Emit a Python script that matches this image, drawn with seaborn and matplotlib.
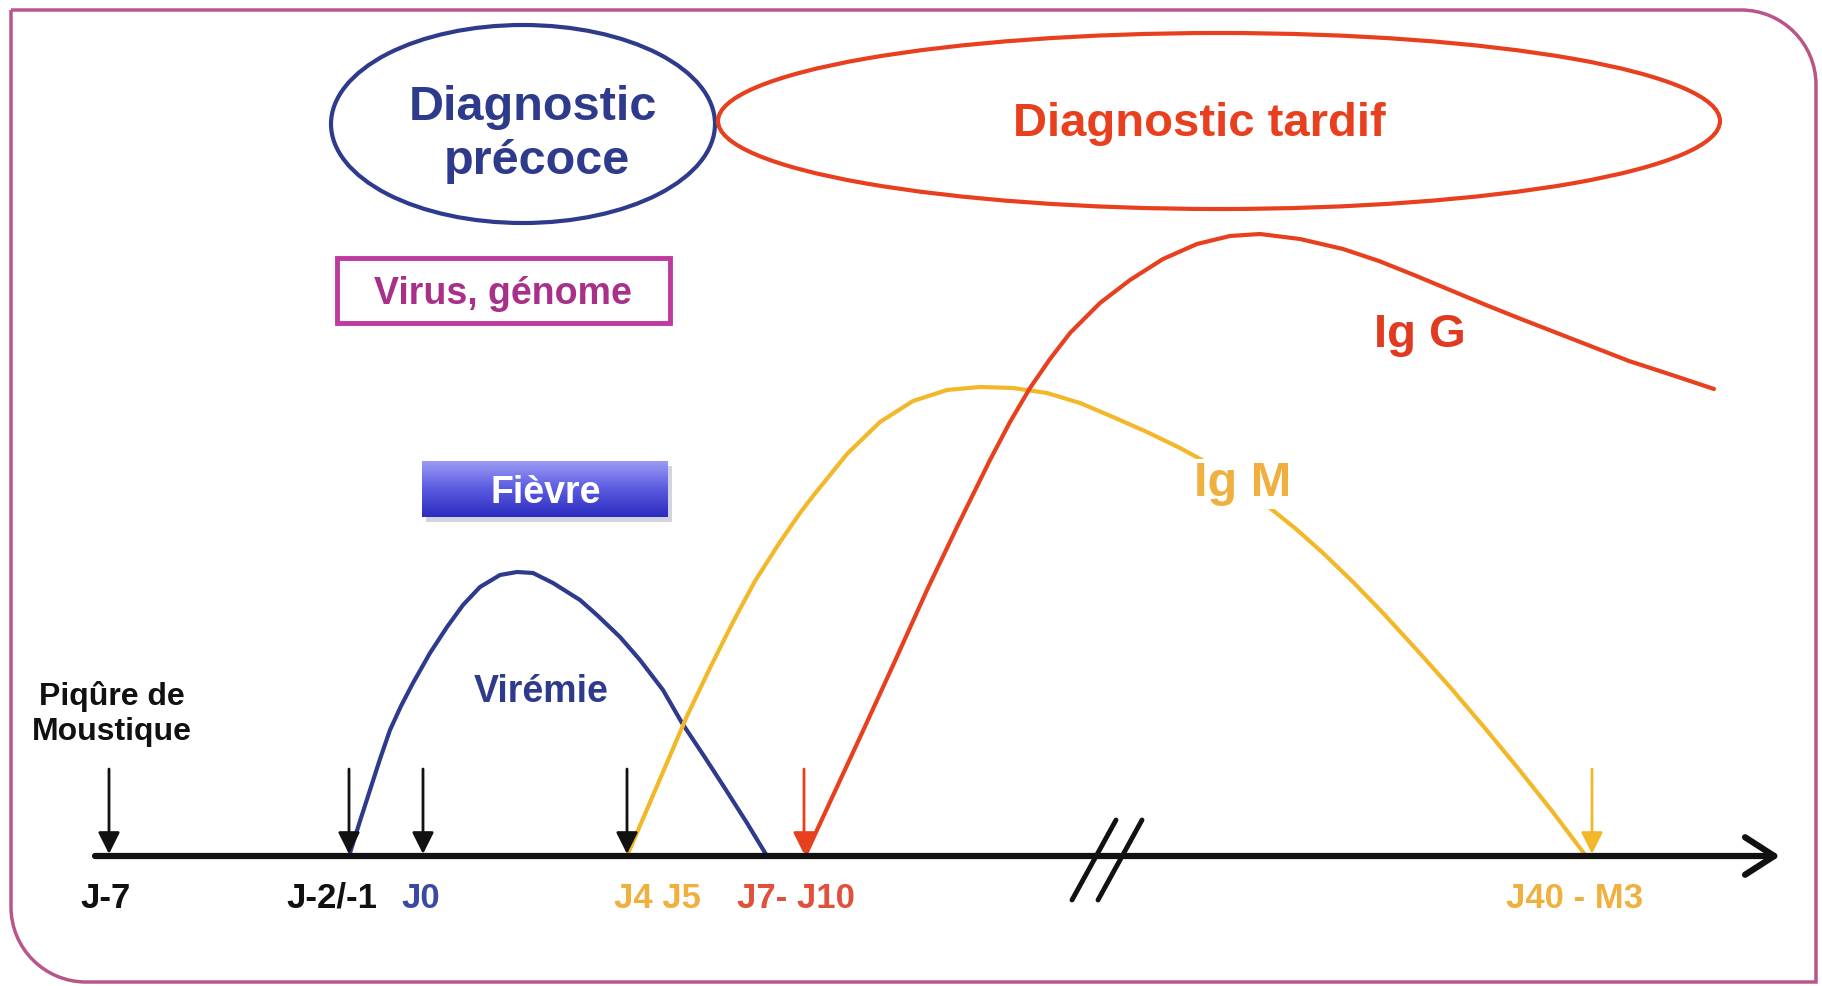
import numpy as np
import pandas as pd
import matplotlib
matplotlib.use("Agg")
import matplotlib.pyplot as plt
import seaborn as sns
from matplotlib.patches import Ellipse, Rectangle, PathPatch
from matplotlib.path import Path
from matplotlib.colors import LinearSegmentedColormap

# ------------------------------------------------------------------
# Data (x along the time line, level = height
# of the curve above the time axis)
# ------------------------------------------------------------------
viremia_x = [349, 360, 370, 380, 390, 401, 413, 430, 447, 463, 480, 500, 517,
             533, 553, 580, 597, 620, 640, 663, 682, 704, 726, 747, 767]
viremia_lv = [0, 35, 66, 97, 126, 150, 173, 203, 229, 251, 269, 281, 284,
              283, 273, 256, 241, 219, 196, 166, 133, 100, 66, 33, 0]

igm_x = [627, 657, 687, 710, 732, 755, 780, 800, 813, 847, 880, 913, 947,
         980, 1013, 1047, 1080, 1113, 1147, 1180, 1213, 1270, 1296, 1323,
         1353, 1383, 1416, 1450, 1484, 1517, 1552, 1586]
igm_lv = [0, 70, 140, 188, 232, 275, 314, 343, 360, 402, 434, 455, 466,
          469, 468, 463, 453, 439, 424, 408, 390, 348, 327, 303,
          274, 243, 207, 169, 129, 89, 45, 0]

igg_x = [805, 830, 862, 895, 927, 957, 990, 1010, 1030, 1050, 1070, 1100,
         1130, 1163, 1197, 1230, 1260, 1300, 1343, 1379, 1414, 1450, 1486,
         1521, 1557, 1593, 1629, 1672, 1714]
igg_lv = [0, 54, 123, 195, 266, 329, 396, 434, 468, 497, 523, 553,
          576, 597, 612, 620, 622, 617, 607, 595, 581, 566, 551,
          537, 523, 509, 495, 481, 467]

tick_x = [109, 349, 423, 627, 804, 1592]
tick_labels = ["J-7", "J-2/-1", "J0", "J4 J5", "J7- J10", "J40 - M3"]
label_x = [106, 332, 421, 657, 796, 1575]

# ------------------------------------------------------------------
# Styles
# ------------------------------------------------------------------
BLUE = "#2e3a8c"
RED = "#e8401e"
YELLOW = "#f2b82a"
ORANGE = "#f0b040"
MAGENTA = "#c0399e"
FRAME = "#b8568a"
tick_colors = ["#111111", "#111111", "#111111", "#111111", RED, YELLOW]
label_colors = ["#111111", "#111111", "#3a4aa0", ORANGE, "#e0503a", ORANGE]

AXIS_Y = 856   # pixel row of the time axis
W, H = 1822, 986

sns.set_theme(style="white")
plt.rcParams["font.family"] = ["Liberation Sans", "DejaVu Sans"]
plt.rcParams["font.weight"] = "bold"

fig = plt.figure(figsize=(W / 100, H / 100), dpi=100)
ax = fig.add_axes([0, 0, 1, 1])


def rows(levels):
    return [AXIS_Y - v for v in levels]


# --- frame with two rounded corners ---
r = 75
k = 0.5523 * r
L, T, R, B = 11, 10, 1816, 982
verts = [(L, T), (R - r, T), (R - r + k, T), (R, T + r - k), (R, T + r),
         (R, B), (L + r, B), (L + r - k, B), (L, B - r + k), (L, B - r), (L, T)]
codes = [Path.MOVETO, Path.LINETO, Path.CURVE4, Path.CURVE4, Path.CURVE4,
         Path.LINETO, Path.LINETO, Path.CURVE4, Path.CURVE4, Path.CURVE4, Path.LINETO]
ax.add_patch(PathPatch(Path(verts, codes), fill=False, ec=FRAME, lw=2.5, zorder=1))

# --- curves ---
curves = pd.concat([
    pd.DataFrame({"x": viremia_x, "y": rows(viremia_lv), "serie": "Virémie"}),
    pd.DataFrame({"x": igm_x, "y": rows(igm_lv), "serie": "IgM"}),
    pd.DataFrame({"x": igg_x, "y": rows(igg_lv), "serie": "IgG"}),
])
sns.lineplot(data=curves, x="x", y="y", hue="serie", sort=False, estimator=None,
             palette={"Virémie": BLUE, "IgM": YELLOW, "IgG": RED},
             lw=3, legend=False, ax=ax, zorder=3,
             solid_joinstyle="round", solid_capstyle="round")

# --- time axis ---
ax.annotate("", xy=(1780, AXIS_Y), xytext=(95, AXIS_Y),
            arrowprops=dict(arrowstyle="->,head_length=0.7,head_width=0.45",
                            lw=4.5, color="#111111", shrinkA=0, shrinkB=0,
                            mutation_scale=30), zorder=4)
for x0, dx in [(1072, 44), (1098, 44)]:
    ax.plot([x0, x0 + dx], [900, 820], color="#111111", lw=3.5, zorder=5)

for x, c in zip(tick_x, tick_colors):
    ax.annotate("", xy=(x, AXIS_Y - 2), xytext=(x, 769),
                arrowprops=dict(arrowstyle="-|>,head_length=0.6,head_width=0.3",
                                lw=2, color=c, shrinkA=0, shrinkB=0,
                                mutation_scale=22), zorder=5)
for x, t, c in zip(label_x, tick_labels, label_colors):
    ax.text(x, 898, t, color=c, fontsize=25, ha="center", va="center")

# --- diagnostic ellipses ---
ax.add_patch(Ellipse((523, 124), 384, 198, fill=False, ec=BLUE, lw=3, zorder=2))
ax.add_patch(Ellipse((1219, 121), 1002, 176, fill=False, ec=RED, lw=3, zorder=2))
ax.text(533, 107, "Diagnostic", color=BLUE, fontsize=35, ha="center", va="center")
ax.text(537, 161, "précoce", color=BLUE, fontsize=35, ha="center", va="center")
ax.text(1199, 124, "Diagnostic tardif", color=RED, fontsize=34,
        ha="center", va="center")

# --- boxes ---
ax.add_patch(Rectangle((337, 258), 333, 65, fill=False, ec=MAGENTA, lw=3.5, zorder=2))
ax.text(503, 294, "Virus, génome", color="#a8308a", fontsize=27,
        ha="center", va="center")

ax.add_patch(Rectangle((426, 466), 246, 56, fc="#b8b8c8", ec="none", alpha=0.6, zorder=1))
grad = LinearSegmentedColormap.from_list("fievre", ["#9a9af4", "#5a5ae0", "#2c2cc0"])
ax.imshow(np.linspace(0, 1, 64).reshape(-1, 1), cmap=grad, aspect="auto",
          extent=(422, 668, 517, 461), origin="upper", zorder=2)
ax.text(546, 493, "Fièvre", color="white", fontsize=27, ha="center", va="center",
        zorder=3)

# --- curve and event labels ---
ax.text(112, 697, "Piqûre de", color="#111111", fontsize=23, ha="center", va="center")
ax.text(112, 732, "Moustique", color="#111111", fontsize=23, ha="center", va="center")
ax.text(541, 692, "Virémie", color=BLUE, fontsize=27, ha="center", va="center")
ax.text(1243, 484, "Ig M", color=ORANGE, fontsize=35, ha="center", va="center",
        zorder=6, bbox=dict(fc="white", ec="none", pad=2))
ax.text(1420, 335, "Ig G", color="#e03a20", fontsize=34, ha="center", va="center")

ax.set_xlim(0, W)
ax.set_ylim(H, 0)
ax.axis("off")

fig.savefig("out.png", dpi=100)
